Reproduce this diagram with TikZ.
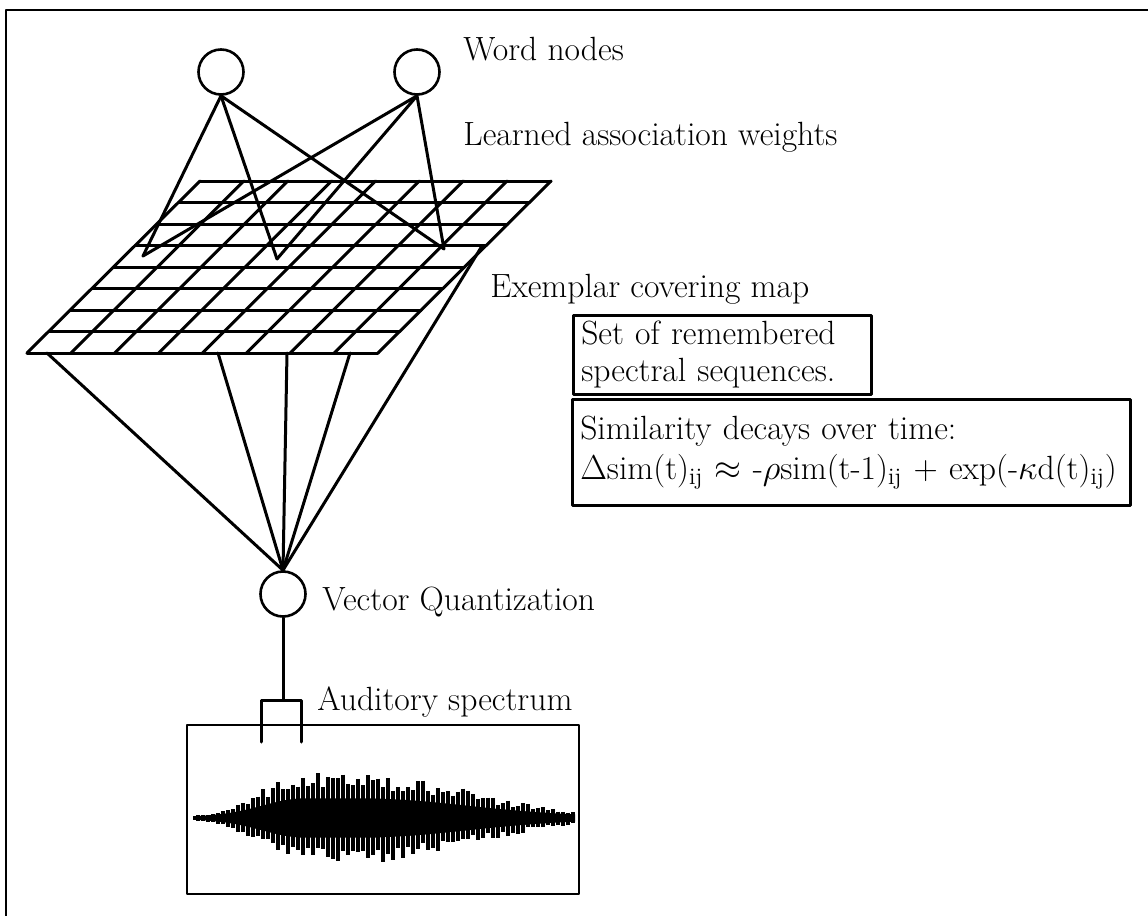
\documentclass[tikz,border=0pt]{standalone}
\usepackage{fontspec}
\usepackage{amsmath}
\newcommand\lblfont{\fontsize{16.8}{18.5}\selectfont}

\begin{document}
\begin{tikzpicture}[x=0.5pt, y=-0.5pt, line cap=round, line join=round,
  declare function={env(\t)=46*exp(0-(max(305-\t,0)/60)^2-(max(\t-360,0)/150)^2);},
  unit/.style={circle, draw, line width=1.3pt, minimum size=22.5pt, inner sep=0pt},
  wire/.style={line width=1.5pt},
  lbl/.style={font=\lblfont, anchor=base west, inner sep=0pt},
  note/.style={draw, line width=1.3pt, font=\lblfont, align=left, anchor=north west, inner xsep=4pt, inner ysep=2pt}]
  \useasboundingbox (0,0) rectangle (1148,916);
  % frame of the scanned page
  \draw[line width=1.4pt] (6,916) -- (6,10) -- (1148,10);

  % word nodes and their weights
  \node[unit] (wA) at (221,72) {};
  \node[unit] (wB) at (417,72) {};
  \coordinate (tipL) at (143,256);
  \coordinate (tipM) at (277,259);
  \coordinate (tipR) at (444,249);
  \foreach \w in {wA,wB}
    \foreach \t in {tipL,tipM,tipR}
      \draw[wire] (\w.south) -- (\t);

  % exemplar map, 8 x 8 cells
  \foreach \i in {0,...,8}
    \draw[wire] (200-21.625*\i,181+21.5*\i) -- ++(351,0);
  \foreach \j in {0,...,8}
    \draw[wire] (200+43.875*\j,181) -- ++(-173,172);

  % vector quantization
  \node[unit] (vq) at (283,594) {};
  \coordinate (m1) at (47,353);
  \coordinate (m2) at (218,353);
  \coordinate (m3) at (287,353);
  \coordinate (m4) at (350,353);
  \coordinate (m5) at (482,246);
  \foreach \m in {m1,m2,m3,m4,m5}
    \draw[wire] (\m) -- (vq.north);

  % window on the spectrum
  \coordinate (tap) at (283,700);
  \coordinate (tapL) at (261,742);
  \coordinate (tapR) at (301,742);
  \draw[wire] (vq.south) -- (tap);
  \draw[wire] (tapL) |- (tap) -| (tapR);

  % auditory spectrum
  \node[draw, line width=1.2pt, minimum width=196pt, minimum height=84.5pt, inner sep=0pt, anchor=north west] (spec) at (186,724) {};
  \fill plot[domain=193:575, samples=90] (\x,{818-0.4*env(\x)-1.3})
    -- plot[domain=575:193, samples=90] (\x,{818+0.4*env(\x)+1.3}) -- cycle;
  \pgfmathsetseed{11}
  \foreach \k in {0,...,75} {
    \pgfmathsetmacro\xb{198+5*\k}
    \pgfmathsetmacro\up{env(\xb)*(0.6+0.4*rnd)+1}
    \pgfmathsetmacro\dn{env(\xb)*(0.6+0.4*rnd)+1}
    \draw[line width=1.75pt, line cap=butt] (\xb,818-\up) -- (\xb,818+\dn);
  }

  % labels
  \node[lbl] (wlab) at (463,60) {Word nodes};
  \node[lbl] (alab) at (463,145) {Learned association weights};
  \node[lbl] (mlab) at (490,297) {Exemplar covering map};
  \node[lbl] (vlab) at (322,610) {Vector Quantization};
  \node[lbl] (slab) at (317,710) {Auditory spectrum};
  \node[note, text width=141pt, minimum height=39.5pt] (memo) at (572,314)
    {Set of remembered\\spectral sequences.};
  \node[note, text width=271pt, minimum height=53pt] (decay) at (571,398)
    {Similarity decays over time:\\[1.5pt]
     \mbox{$\Delta$sim(t)$_{\mathrm{ij}}$ $\approx$ -$\rho$sim(t-1)$_{\mathrm{ij}}$ + exp(-$\kappa$d(t)$_{\mathrm{ij}}$)}};
\end{tikzpicture}
\end{document}
